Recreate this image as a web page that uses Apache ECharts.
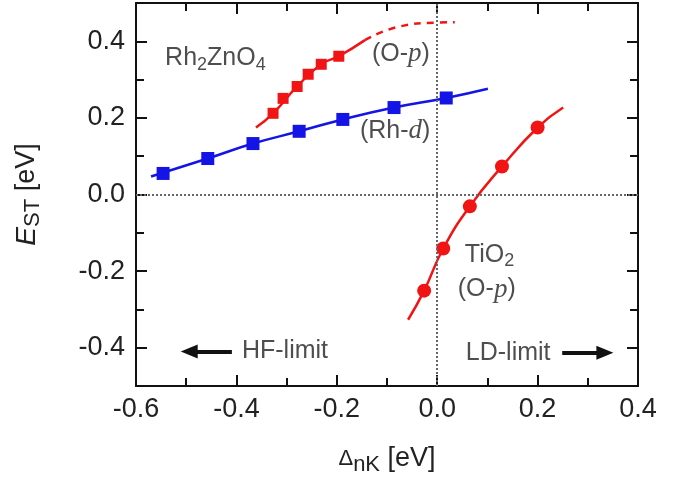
<!DOCTYPE html>
<html>
<head>
<meta charset="utf-8">
<script src="https://cdn.jsdelivr.net/npm/echarts@6/dist/echarts.min.js"></script>
<style>
  html, body { margin: 0; padding: 0; background: #fff; }
  #main { width: 680px; height: 477px; }
</style>
</head>
<body>
<div id="main"></div>
<script>
// Rh2ZnO4 (Rh-d) squares and fit
const rhdX = [-0.546, -0.457, -0.367, -0.275, -0.188, -0.086, 0.018]
const rhdY = [0.055, 0.094, 0.133, 0.165, 0.196, 0.227, 0.252]
const rhdFitX = [-0.57, -0.457, -0.367, -0.275, -0.188, -0.086, 0.018, 0.101]
const rhdFitY = [0.047, 0.094, 0.133, 0.165, 0.196, 0.227, 0.252, 0.276]

// Rh2ZnO4 (O-p) squares and fit (solid + extrapolated dashed)
const ropX = [-0.327, -0.307, -0.279, -0.257, -0.231, -0.196]
const ropY = [0.212, 0.251, 0.282, 0.314, 0.340, 0.361]
const ropFitX = [-0.361, -0.327, -0.279, -0.231, -0.196, -0.144]
const ropFitY = [0.175, 0.212, 0.282, 0.340, 0.361, 0.403]
const ropDashX = [-0.144, -0.08, 0.0, 0.035]
const ropDashY = [0.403, 0.437, 0.449, 0.450]

// TiO2 (O-p) circles and fit
const tioX = [-0.026, 0.012, 0.065, 0.129, 0.200]
const tioY = [-0.251, -0.141, -0.031, 0.073, 0.175]
const tioFitX = [-0.058, -0.026, 0.012, 0.065, 0.129, 0.200, 0.251]
const tioFitY = [-0.327, -0.251, -0.141, -0.031, 0.073, 0.175, 0.227]

const xTicks = [-0.6, -0.4, -0.2, 0.0, 0.2, 0.4]
const yTicks = [-0.4, -0.2, 0.0, 0.2, 0.4]
const yMinor = [-0.3, -0.1, 0.1, 0.3]

// annotations: text anchored at left edge, vertical middle
const noteX = [-0.542, -0.130, -0.154, 0.055, 0.041, -0.389, 0.057]
const noteY = [0.355, 0.366, 0.165, -0.157, -0.248, -0.41, -0.413]
const noteText = [
  '{m|Rh}{s|2}{m|ZnO}{s|4}',
  '{m|(O-}{i|p}{m|)}',
  '{m|(Rh-}{i|d}{m|)}',
  '{m|TiO}{s|2}',
  '{m|(O-}{i|p}{m|)}',
  '{m|HF-limit}',
  '{m|LD-limit}'
]

// arrows [fromX, toX], y
const arrows = [
  { x: [-0.409, -0.494], y: -0.41 },
  { x: [0.249, 0.334], y: -0.413 }
]

const RED = '#f01414'
const BLUE = '#1414e6'
const FONT = 'Liberation Sans, Arial, sans-serif'

const zip = (a, b) => a.map((v, i) => [v, b[i]])

const rich = {
  m: { fontSize: 25, fontFamily: FONT, color: '#222' },
  s: { fontSize: 18, fontFamily: FONT, color: '#222', padding: [13, 0, 0, 0] },
  i: { fontSize: 27, fontFamily: 'Liberation Serif, DejaVu Serif, serif', fontStyle: 'italic', color: '#222' }
}

const chart = echarts.init(document.getElementById('main'))

const baseX = {
  type: 'value', min: -0.6, max: 0.4, interval: 0.2,
  axisLine: { show: true, onZero: false, lineStyle: { color: '#111', width: 2 } },
  axisTick: { inside: true, length: 11, lineStyle: { color: '#111', width: 2 } },
  minorTick: { show: true, splitNumber: 2, length: 8, lineStyle: { color: '#111', width: 2 } },
  splitLine: { show: false }
}
const baseY = {
  type: 'value', min: -0.5, max: 0.5, interval: 0.1,
  axisLine: { show: true, onZero: false, lineStyle: { color: '#111', width: 2 } },
  splitLine: { show: false }
}
const hiddenLine = { show: false, onZero: false }

chart.setOption({
  animation: false,
  grid: { left: 136, right: 42, top: 3, bottom: 91, outerBoundsMode: 'none' },
  xAxis: [
    Object.assign({}, baseX, {
      position: 'bottom',
      axisLabel: {
        fontSize: 27, fontFamily: FONT, color: '#222', margin: 10,
        formatter: v => v.toFixed(1)
      },
      name: '{d|Δ}{s|nK}{m| [eV]}',
      nameLocation: 'middle',
      nameGap: 56,
      nameTextStyle: { rich: {
        d: { fontSize: 22, fontFamily: FONT, color: '#222' },
        s: { fontSize: 22, fontFamily: FONT, color: '#222', padding: [12, 0, 0, 0] },
        m: { fontSize: 27, fontFamily: FONT, color: '#222' }
      } }
    }),
    Object.assign({}, baseX, { position: 'top', axisLabel: { show: false } })
  ],
  yAxis: [
    Object.assign({}, baseY, {
      position: 'left',
      axisTick: { inside: true, length: 11, customValues: yTicks, lineStyle: { color: '#111', width: 2 } },
      axisLabel: {
        customValues: yTicks, fontSize: 27, fontFamily: FONT, color: '#222', margin: 11,
        formatter: v => v.toFixed(1)
      },
      name: '{e|E}{s|ST}{m| [eV]}',
      nameLocation: 'middle',
      nameGap: 92,
      nameTextStyle: { rich: {
        e: { fontSize: 28, fontFamily: FONT, fontStyle: 'italic', color: '#222' },
        s: { fontSize: 22, fontFamily: FONT, color: '#222', padding: [12, 0, 0, 0] },
        m: { fontSize: 27, fontFamily: FONT, color: '#222' }
      } }
    }),
    Object.assign({}, baseY, {
      position: 'left', axisLine: hiddenLine,
      axisTick: { inside: true, length: 8, customValues: yMinor, lineStyle: { color: '#111', width: 2 } },
      axisLabel: { show: false }
    }),
    Object.assign({}, baseY, {
      position: 'right',
      axisTick: { inside: true, length: 11, customValues: yTicks, lineStyle: { color: '#111', width: 2 } },
      axisLabel: { show: false }
    }),
    Object.assign({}, baseY, {
      position: 'right', axisLine: hiddenLine,
      axisTick: { inside: true, length: 8, customValues: yMinor, lineStyle: { color: '#111', width: 2 } },
      axisLabel: { show: false }
    })
  ],
  series: [
    {
      name: 'guides', type: 'line', data: [], silent: true,
      markLine: {
        silent: true, symbol: 'none', label: { show: false },
        lineStyle: { color: '#666', type: [2, 2], width: 2 },
        data: [{ xAxis: 0 }, { yAxis: 0 }]
      }
    },
    {
      name: 'arrows', type: 'line', data: [], silent: true,
      markLine: {
        silent: true, symbol: ['none', 'triangle'], symbolSize: [14, 17], label: { show: false },
        lineStyle: { color: '#111', type: 'solid', width: 4 },
        data: arrows.map(a => [{ coord: [a.x[0], a.y] }, { coord: [a.x[1], a.y] }])
      }
    },
    {
      name: 'Rh-d fit', type: 'line', smooth: true, showSymbol: false,
      data: zip(rhdFitX, rhdFitY), lineStyle: { color: BLUE, width: 2.5 }
    },
    {
      name: 'Rh-d', type: 'line', data: zip(rhdX, rhdY), symbol: 'rect', symbolSize: 13,
      lineStyle: { width: 0 }, itemStyle: { color: BLUE }
    },
    {
      name: 'O-p fit', type: 'line', smooth: true, showSymbol: false,
      data: zip(ropFitX, ropFitY), lineStyle: { color: RED, width: 2.5 }
    },
    {
      name: 'O-p extrapolation', type: 'line', smooth: true, showSymbol: false,
      data: zip(ropDashX, ropDashY), lineStyle: { color: RED, width: 2.5, type: [7, 6] }
    },
    {
      name: 'O-p', type: 'line', data: zip(ropX, ropY), symbol: 'rect', symbolSize: 11,
      lineStyle: { width: 0 }, itemStyle: { color: RED }
    },
    {
      name: 'TiO2 fit', type: 'line', smooth: true, showSymbol: false,
      data: zip(tioFitX, tioFitY), lineStyle: { color: RED, width: 2.5 }
    },
    {
      name: 'TiO2', type: 'line', data: zip(tioX, tioY), symbol: 'circle', symbolSize: 14,
      lineStyle: { width: 0 }, itemStyle: { color: RED }
    },
    {
      name: 'notes', type: 'scatter', symbolSize: 0, silent: true,
      data: noteX.map((x, i) => [x, noteY[i]]),
      label: {
        show: true, position: 'right', distance: 0,
        formatter: p => noteText[p.dataIndex],
        rich: rich
      }
    }
  ]
})
</script>
</body>
</html>
